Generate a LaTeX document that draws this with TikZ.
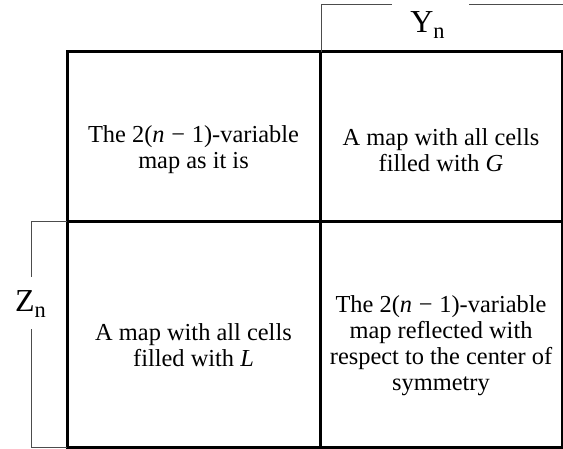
\documentclass[tikz,border=0pt]{standalone}
\usepackage{fontspec}
\setmainfont{Liberation Serif}
\usetikzlibrary{positioning}

\begin{document}
\begin{tikzpicture}[x=0.5pt, y=-0.5pt,
    grid/.style={line width=1.5pt},
    brace/.style={line width=0.5pt, draw=black!70},
    cell/.style={align=center, inner sep=0pt, font=\fontsize{12.2}{13}\selectfont},
    lbl/.style={anchor=base, inner sep=0pt, font=\fontsize{16}{18}\selectfont}]
    \useasboundingbox (0,0) rectangle (563,449);

    % Grid
    \draw[grid] (67,52) rectangle (562,447);
    \draw[grid] (320,52) -- (320,447);
    \draw[grid] (67,222) -- (562,222);

    % Cells
    \node[cell] (tl) at (193.5,150) {The 2(\textit{n}\;−\;1)-variable\\map as it is};
    \node[cell] (tr) at (441,150) {A map with all cells\\filled with \textit{G}};
    \node[cell] (bl) at (193.5,345) {A map with all cells\\filled with \textit{L}};
    \node[cell] (br) at (441,346) {The 2(\textit{n}\;−\;1)-variable\\map reflected with\\respect to the center of\\symmetry};

    % Variables
    \node[lbl] (yn) at (428,33) {Y\textsubscript{n}};
    \node[lbl] (zn) at (31,312) {Z\textsubscript{n}};
    \draw[brace] (321,52) |- (392,5);
    \draw[brace] (469,5) -- (563,5);
    \draw[brace] (67,222) -| (31,277);
    \draw[brace] (31,329) |- (67,447);
\end{tikzpicture}
\end{document}
